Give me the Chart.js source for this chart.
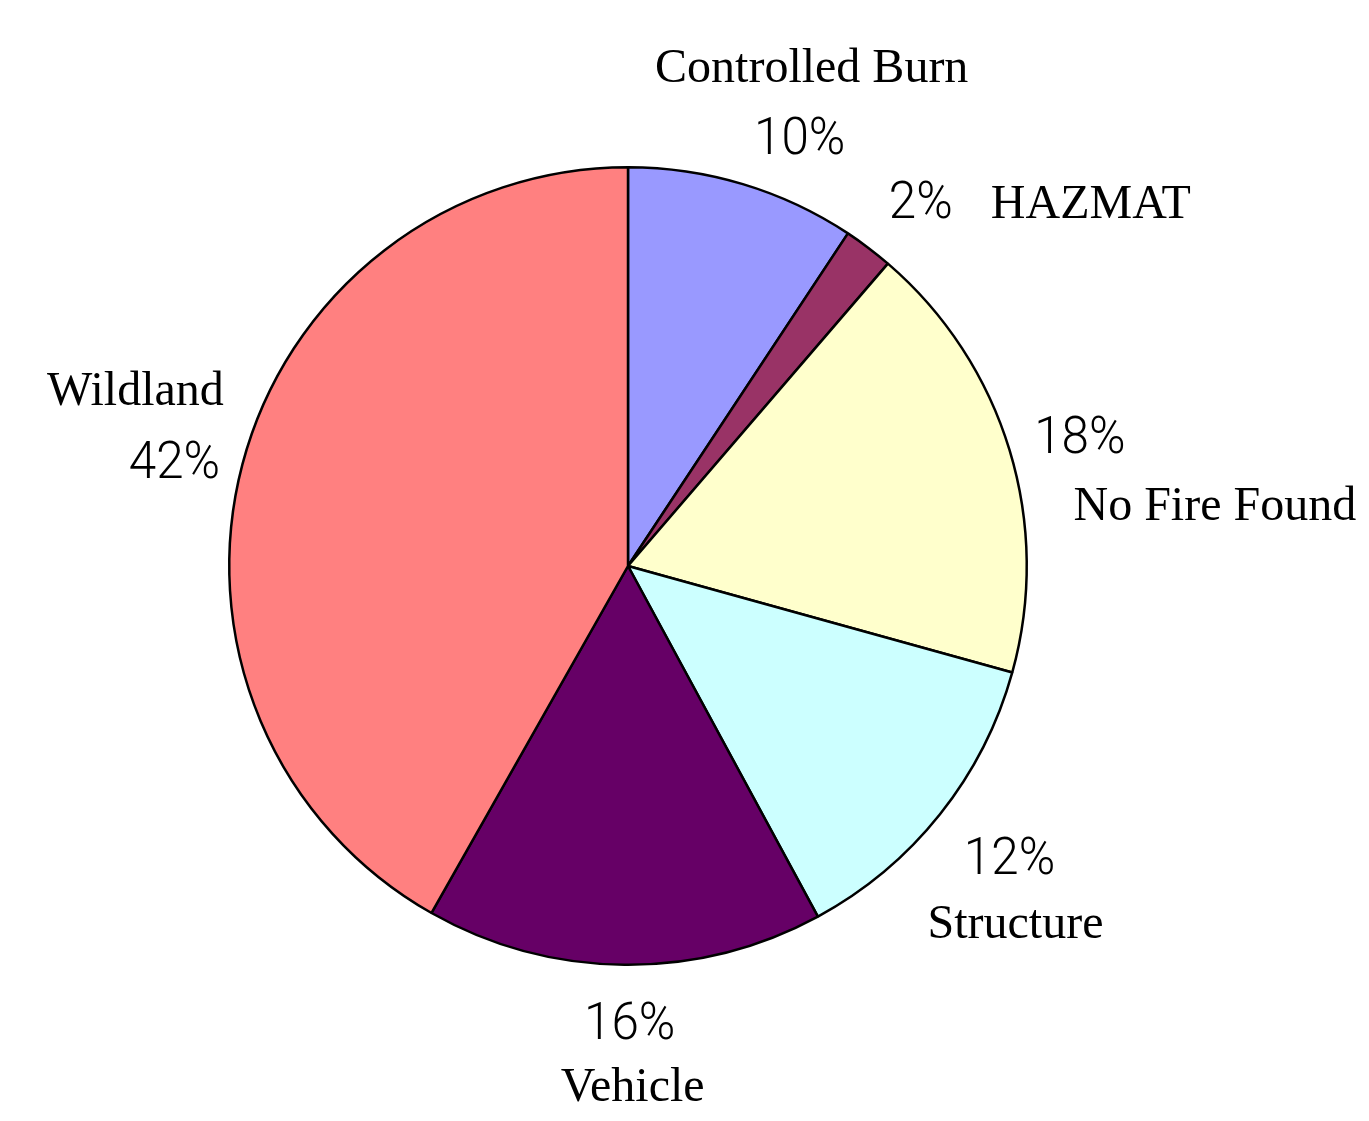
<!DOCTYPE html>
<html lang="en">
<head>
    <meta charset="UTF-8">
    <title>Fire Calls by Type</title>
    <style>
        body { margin: 0; background: #fff; }
        #wrap { width: 1369px; height: 1121px; }
    </style>
    <script src="https://cdn.jsdelivr.net/npm/chart.js"></script>
</head>
<body>
    <div id="wrap"><canvas id="pieChart"></canvas></div>

    <script>
        // Data (clockwise from the top)
        const categories = ['Controlled Burn', 'HAZMAT', 'No Fire Found', 'Structure', 'Vehicle', 'Wildland'];
        const shares = [9.3, 2.0, 18.0, 12.8, 16.1, 41.8];
        const percentLabels = ['10%', '2%', '18%', '12%', '16%', '42%'];
        const sliceColors = ['#9999FF', '#993366', '#FFFFCC', '#CCFFFF', '#660066', '#FF8080'];

        // Label placement: nudge of the percent text from its spot on the mid angle,
        // and where the category name sits relative to the percent text
        const pctNudge = [[39, 29], [15, 20], [11, 21], [21, 21], [6, 12], [-8, 29]];
        const nameShift = [[12, -72], [170, 0], [135, 67], [6, 64], [3, 62], [-39, -73]];

        const sliceLabels = {
            id: 'sliceLabels',
            afterDatasetsDraw(chart) {
                const ctx = chart.ctx;
                const arcs = chart.getDatasetMeta(0).data;
                ctx.save();
                ctx.fillStyle = '#000';
                ctx.textAlign = 'center';
                ctx.textBaseline = 'alphabetic';
                arcs.forEach((arc, i) => {
                    const mid = (arc.startAngle + arc.endAngle) / 2;
                    const r = arc.outerRadius + 62;
                    const px = arc.x + Math.cos(mid) * r + pctNudge[i][0];
                    const py = arc.y + Math.sin(mid) * r + pctNudge[i][1];
                    // percent text: thin sans, slightly squeezed
                    ctx.save();
                    ctx.translate(px, py);
                    ctx.scale(0.95, 1);
                    ctx.font = '300 52px Roboto, "Liberation Sans", sans-serif';
                    ctx.fillText(percentLabels[i], 0, 0);
                    ctx.restore();
                    ctx.font = '48px "Liberation Serif", "Times New Roman", serif';
                    ctx.fillText(categories[i], px + nameShift[i][0], py + nameShift[i][1]);
                });
                ctx.restore();
            }
        };

        const ctx = document.getElementById('pieChart').getContext('2d');
        const pieChart = new Chart(ctx, {
            type: 'pie',
            data: {
                labels: categories,
                datasets: [{
                    data: shares,
                    backgroundColor: sliceColors,
                    borderColor: '#000',
                    borderWidth: 2.5
                }]
            },
            options: {
                responsive: true,
                maintainAspectRatio: false,
                animation: false,
                layout: {
                    padding: { left: 228, right: 341, top: 166, bottom: 155 }
                },
                plugins: {
                    legend: { display: false },
                    tooltip: { enabled: false }
                }
            },
            plugins: [sliceLabels]
        });
    </script>
</body>
</html>
